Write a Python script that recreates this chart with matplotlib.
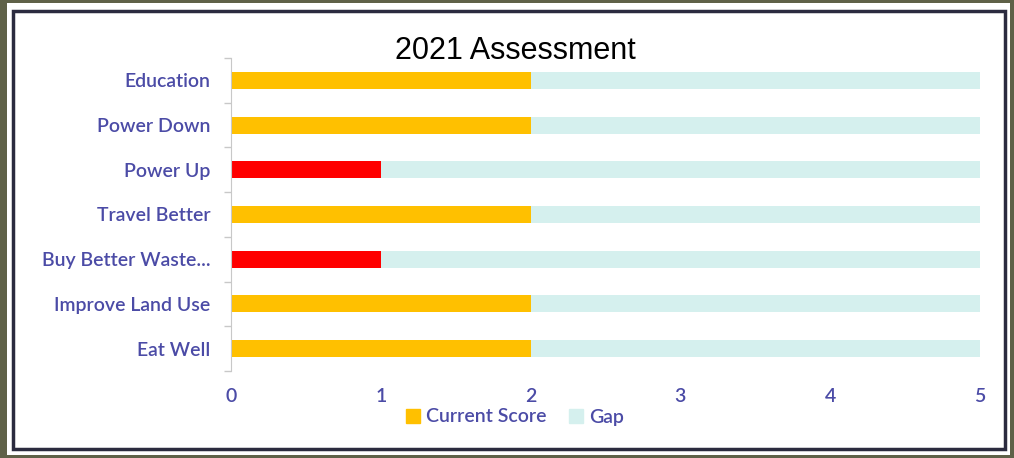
import numpy as np
import matplotlib
matplotlib.use("Agg")
import matplotlib.pyplot as plt
from matplotlib.patches import Rectangle, Patch

categories = ["Eat Well", "Improve Land Use", "Buy Better Waste...", "Travel Better",
              "Power Up", "Power Down", "Education"]
current_score = [2, 2, 1, 2, 1, 2, 2]
max_score = 5
gap = [max_score - v for v in current_score]
score_colors = ["#FFC000" if v >= 2 else "#FF0000" for v in current_score]

label_color = "#4B4BA6"
plt.rcParams["font.family"] = ["Lato", "DejaVu Sans"]
plt.rcParams["font.weight"] = "semibold"

fig = plt.figure(figsize=(10.14, 4.58), dpi=100, facecolor="#5f6148")

# white card with dark frame, like the screenshot
W, H = 1014, 458
fig.patches.append(Rectangle((7 / W, 3 / H), 1003 / W, 452 / H, transform=fig.transFigure,
                             facecolor="white", edgecolor="none", zorder=-3))
fig.patches.append(Rectangle((13 / W, 9 / H), 992 / W, 438 / H, transform=fig.transFigure,
                             facecolor="white", edgecolor="#2b2b3f", linewidth=2.5, zorder=-2))

ax = fig.add_axes([231 / W, 1 - 371 / H, 749 / W, 313 / H])
ax.set_facecolor("none")
y = np.arange(len(categories))
ax.barh(y, current_score, height=0.38, color=score_colors, zorder=2)
ax.barh(y, gap, left=current_score, height=0.38, color="#D5F0EE", zorder=2)

ax.set_xlim(0, max_score)
ax.set_ylim(-0.5, len(categories) - 0.5)
ax.set_xticks(range(0, max_score + 1))
ax.set_yticks(y)
ax.set_yticklabels(categories)
ax.set_yticks(np.arange(-0.5, len(categories)), minor=True)
ax.tick_params(axis="y", which="major", length=0, pad=15, labelsize=14, labelcolor=label_color)
ax.tick_params(axis="y", which="minor", length=5, color="#c8c8c8", width=1)
ax.tick_params(axis="x", length=0, pad=12, labelsize=14, labelcolor=label_color)
for s in ["top", "right", "bottom"]:
    ax.spines[s].set_visible(False)
ax.spines["left"].set_color("#c8c8c8")

fig.text(515 / W, 1 - 51 / H, "2021 Assessment", ha="center", va="center",
         fontsize=22, family="Liberation Sans", weight="normal", color="black")

handles = [Patch(color="#FFC000", label="Current Score"), Patch(color="#D5F0EE", label="Gap")]
fig.legend(handles=handles, loc="center", bbox_to_anchor=(515 / W, 1 - 417 / H), ncol=2,
           frameon=False, handlelength=0.7, handleheight=0.7, handletextpad=0.3,
           columnspacing=1.2, labelcolor=label_color, fontsize=14)

fig.savefig("out.png", dpi=100, facecolor=fig.get_facecolor())
